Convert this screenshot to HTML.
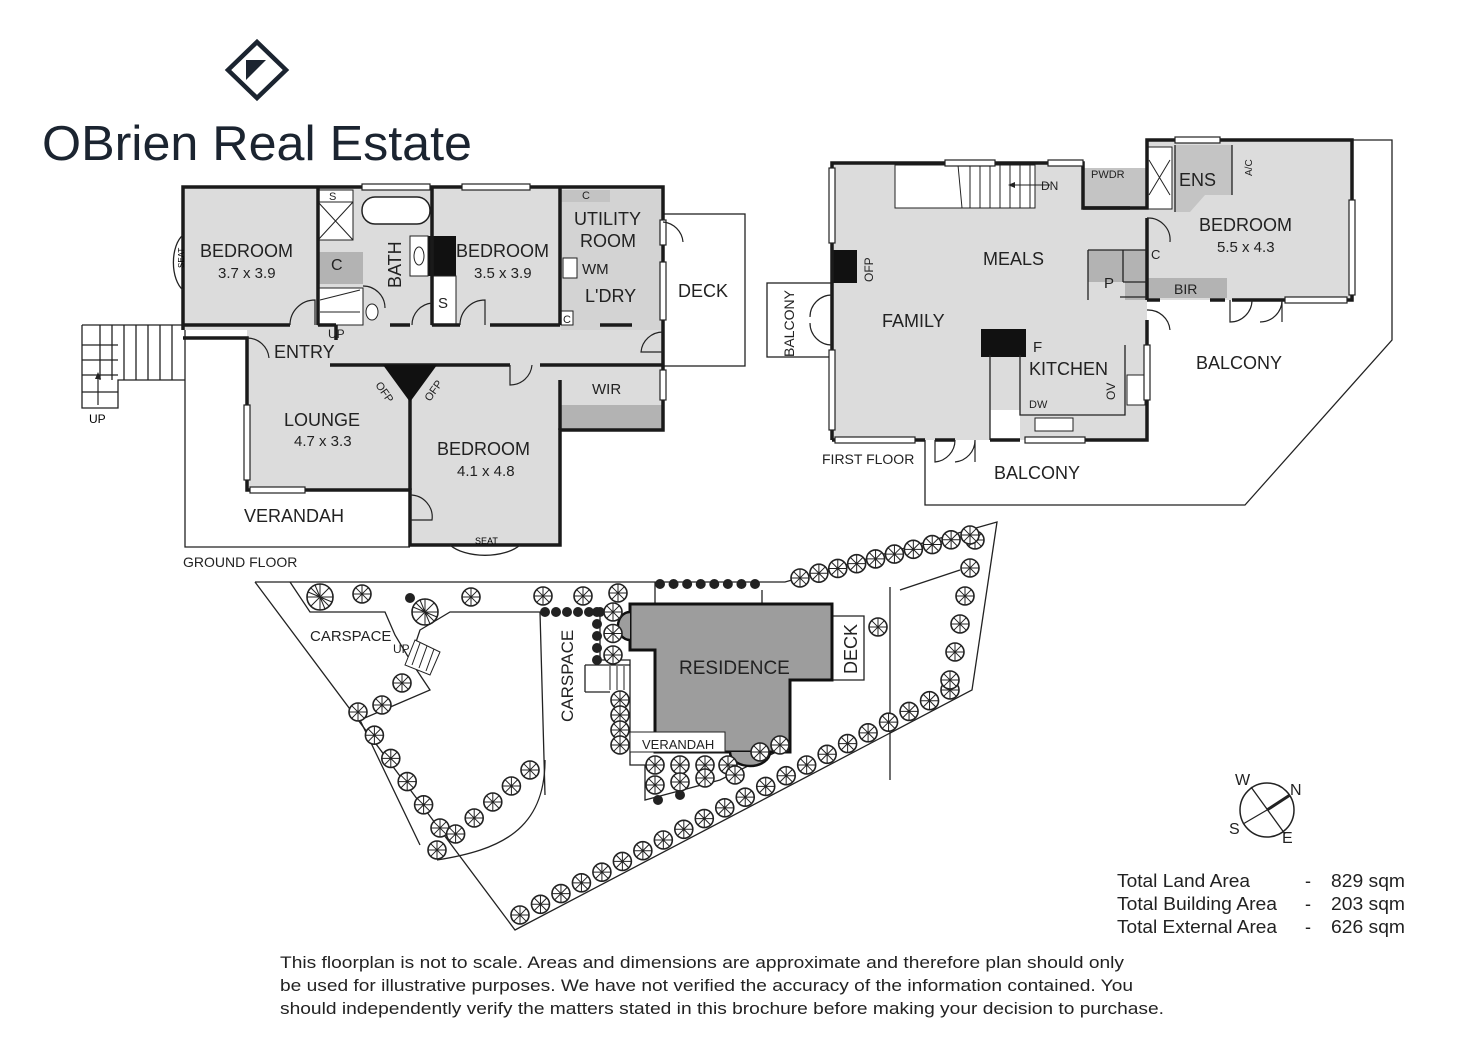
<!DOCTYPE html>
<html><head><meta charset="utf-8">
<style>
html,body{margin:0;padding:0;background:#fff;}
svg{display:block;font-family:"Liberation Sans",sans-serif;}
</style></head><body>
<svg id="s" width="1472" height="1040" viewBox="0 0 1472 1040" xmlns="http://www.w3.org/2000/svg">
<defs>
<g id="tr"><circle r="9" fill="#fff" stroke="#222" stroke-width="1.6"/><path d="M0-9V9M-9 0H9M-6.3-6.3L6.3 6.3M-6.3 6.3L6.3-6.3" stroke="#222" stroke-width="1"/></g>
<g id="tb"><circle r="13" fill="#fff" stroke="#222" stroke-width="1.6"/><path d="M0-13V13M-13 0H13M-9-9L9 9M-9 9L9-9M-5-12L5 12M-12-5L12 5" stroke="#222" stroke-width="1"/></g>
<g id="dt"><circle r="5" fill="#222"/></g>
</defs>

<!-- logo -->
<polygon points="257,42 286,70 257,98 228,70" fill="none" stroke="#1b2430" stroke-width="4.5"/>
<polygon points="246,60 266,60 246,80" fill="#1b2430"/>
<text x="42" y="160" font-size="49" fill="#1b2430" textLength="430" lengthAdjust="spacingAndGlyphs">OBrien Real Estate</text>

<!-- ===== GROUND FLOOR ===== -->
<g fill="none" stroke="#222" stroke-width="1.3">
<rect x="663" y="214" width="82" height="152"/>
<polyline points="185,328 185,547 410,547"/>
<polyline points="82,325 185,325"/><polyline points="82,325 82,408 118,408 118,380 185,380"/>
<path d="M100,325V380M112,325V380M124,325V380M136,325V380M148,325V380M160,325V380M172,325V380"/>
<path d="M82,345H118M82,360H118M82,375H118M82,392H118"/>
</g>
<path d="M98,405V378" stroke="#222" stroke-width="1.2"/><polygon points="98,372 95,379 101,379" fill="#222"/>
<text x="89" y="423" font-size="12">UP</text>

<polygon points="183,187 663,187 663,430 560,430 560,545 410,545 410,490 247,490 247,330 183,330" fill="#dcdcdc"/>
<rect x="318" y="252" width="45" height="32" fill="#b3b3b3"/>
<rect x="560" y="405" width="103" height="25" fill="#b3b3b3"/>
<rect x="560" y="190" width="50" height="12" fill="#b3b3b3"/>
<rect x="561" y="190" width="100" height="140" fill="#cdcdcd" opacity="0.6"/>
<rect x="428" y="236" width="28" height="40" fill="#111"/>
<rect x="410" y="236" width="18" height="40" fill="#fff" stroke="#222"/>
<ellipse cx="419" cy="256" rx="5" ry="9" fill="none" stroke="#222"/>
<rect x="432" y="276" width="24" height="49" fill="#fff" stroke="#222"/>
<rect x="318" y="190" width="35" height="50" fill="#fff" stroke="#222"/>
<path d="M318,202H353M318,202L353,240M353,202L318,240" stroke="#222" stroke-width="1"/>
<rect x="362" y="197" width="68" height="27" rx="13" fill="#fff" stroke="#222" stroke-width="1.5"/>
<rect x="318" y="288" width="45" height="37" fill="#fff" stroke="#222"/>
<path d="M320,300L360,290M320,312H360" stroke="#222" stroke-width="1"/>
<ellipse cx="372" cy="312" rx="6" ry="8" fill="#fff" stroke="#222"/>
<rect x="563" y="258" width="14" height="20" fill="#fff" stroke="#222"/>
<rect x="561" y="311" width="12" height="14" fill="#fff" stroke="#222"/>
<g stroke="#1a1a1a" stroke-width="3.5" fill="none">
<polyline points="183,330 183,187 663,187 663,430 560,430 560,545 410,545 410,490 247,490 247,338 183,338"/>
<path d="M318,187V325M432,187V325M560,187V325M183,325H290M318,325H336M336,325V340M390,325H410M432,325H460M490,325H560M600,325H632M330,365H510M540,365H663M410,365V490M560,380V430"/>
</g>
<polygon points="383,365 437,365 410,402" fill="#111"/>
<g stroke="#222" stroke-width="1.2" fill="#fff">
<rect x="362" y="184" width="68" height="6"/><rect x="462" y="184" width="68" height="6"/>
<rect x="660" y="220" width="6" height="25"/><rect x="660" y="262" width="6" height="58"/><rect x="660" y="370" width="6" height="30"/>
<rect x="244" y="405" width="6" height="75"/><rect x="250" y="487" width="55" height="6"/>
</g>
<path d="M183,235 A16,30 0 0,0 183,290" fill="none" stroke="#222" stroke-width="1.3"/>
<path d="M450,545 A40,20 0 0,0 520,545" fill="none" stroke="#222" stroke-width="1.3"/>
<text x="475" y="544" font-size="9">SEAT</text>
<text transform="translate(184,268) rotate(-90)" font-size="8">SEAT</text>
<g fill="none" stroke="#222" stroke-width="1.2">
<path d="M290,325A25,25 0 0,1 315,300V325"/><path d="M460,325A25,25 0 0,1 485,300V325"/>
<path d="M247,338A22,22 0 0,1 269,358"/><path d="M510,365V385A22,22 0 0,0 532,365"/>
<path d="M663,332A22,22 0 0,0 641,352H663"/><path d="M663,222A22,22 0 0,1 683,242"/>
<path d="M410,495A22,22 0 0,1 432,520H410"/><path d="M363,286A22,22 0 0,1 385,308"/>
<path d="M412,325A22,22 0 0,1 432,303"/>
</g>
<g font-size="18" fill="#222">
<text x="200" y="257">BEDROOM</text><text x="218" y="278" font-size="15">3.7 x 3.9</text>
<text x="456" y="257">BEDROOM</text><text x="474" y="278" font-size="15">3.5 x 3.9</text>
<text x="574" y="225">UTILITY</text><text x="580" y="247">ROOM</text>
<text x="585" y="302">L'DRY</text><text x="582" y="274" font-size="15">WM</text>
<text x="678" y="297">DECK</text>
<text x="274" y="358">ENTRY</text>
<text x="284" y="426">LOUNGE</text><text x="294" y="446" font-size="15">4.7 x 3.3</text>
<text x="437" y="455">BEDROOM</text><text x="457" y="476" font-size="15">4.1 x 4.8</text>
<text x="592" y="394" font-size="15">WIR</text>
<text x="244" y="522">VERANDAH</text>
<text x="331" y="270" font-size="16">C</text><text x="438" y="308" font-size="15">S</text>
<text x="329" y="200" font-size="11">S</text><text x="582" y="199" font-size="11">C</text><text x="563" y="323" font-size="11">C</text>
<text transform="translate(401,288) rotate(-90)">BATH</text>
<text x="328" y="338" font-size="12">UP</text>
<text transform="translate(375,385) rotate(55)" font-size="11">OFP</text>
<text transform="translate(430,402) rotate(-55)" font-size="11">OFP</text>
<text x="183" y="567" font-size="14">GROUND FLOOR</text>
</g>

<!-- ===== FIRST FLOOR ===== -->
<g fill="none" stroke="#222" stroke-width="1.3">
<rect x="767" y="283" width="65" height="74"/>
<polyline points="1352,140 1392,140 1392,340 1245,505 925,505 925,440"/>
</g>
<polygon points="832,163 1083,163 1083,208 1147,208 1147,140 1352,140 1352,300 1147,300 1147,440 1020,440 1020,410 990,410 990,440 832,440" fill="#dcdcdc"/>
<rect x="1083" y="168" width="64" height="40" fill="#c4c4c4"/>
<polygon points="1175,145 1232,145 1232,195 1205,195 1190,212 1175,212" fill="#c4c4c4"/>
<polygon points="1088,250 1147,250 1147,300 1125,300 1125,282 1088,282" fill="#b3b3b3"/>
<rect x="1147" y="278" width="80" height="20" fill="#b3b3b3"/>
<rect x="895" y="165" width="140" height="43" fill="#fff" stroke="#222"/>
<path d="M958,165L962,208M970,165V208M980,165V208M990,165V208M1000,165V208M1010,165V208M1020,165V208M1030,165V208" stroke="#222"/>
<path d="M1050,185H1010" stroke="#222"/><polygon points="1008,185 1015,182 1015,188" fill="#222"/>
<rect x="1147" y="147" width="25" height="62" fill="#fff" stroke="#222"/><path d="M1149,160L1170,195M1170,160L1149,195" stroke="#222"/>
<rect x="981" y="329" width="45" height="28" fill="#111"/>
<rect x="832" y="250" width="25" height="33" fill="#111"/>
<rect x="1127" y="375" width="18" height="30" fill="#fff" stroke="#222"/>
<rect x="1035" y="418" width="38" height="13" fill="#fff" stroke="#222"/>
<g stroke="#1a1a1a" stroke-width="3.5" fill="none">
<polyline points="832,440 832,163 1083,163 1083,208 1147,208 1147,140 1352,140 1352,300 1232,300"/>
<path d="M1147,300H1160M1147,218V300M1147,320V345M1147,365V440H1070M1020,440H990M955,440H935M832,440H925M1225,300H1210M1083,208H1130"/>
</g>
<path d="M1088,250V300M1088,250H1147M1123,282H1147M1123,282V250M1120,297H1147M1020,355V415H1125V345M990,355V440M1232,145V195M1175,145V212" stroke="#222" stroke-width="1.3" fill="none"/>
<g stroke="#222" stroke-width="1.2" fill="#fff">
<rect x="829" y="168" width="6" height="75"/><rect x="829" y="350" width="6" height="80"/>
<rect x="835" y="437" width="80" height="6"/><rect x="1025" y="437" width="60" height="6"/>
<rect x="945" y="160" width="50" height="6"/><rect x="1048" y="160" width="35" height="6"/>
<rect x="1175" y="137" width="45" height="6"/><rect x="1349" y="200" width="6" height="95"/>
<rect x="1285" y="297" width="62" height="6"/><rect x="1144" y="345" width="6" height="55"/>
</g>
<g fill="none" stroke="#222" stroke-width="1.2">
<path d="M832,295A22,22 0 0,0 810,317M832,345A22,22 0 0,1 810,323"/>
<path d="M935,440V462A22,22 0 0,0 955,440M955,462A22,22 0 0,0 975,440V462"/>
<path d="M1230,300V322A22,22 0 0,0 1252,300M1260,322A22,22 0 0,0 1282,300V322"/>
<path d="M1147,218A22,22 0 0,1 1170,242"/><path d="M1147,310A22,22 0 0,1 1170,330"/>
</g>
<g font-size="18" fill="#222">
<text x="983" y="265">MEALS</text><text x="882" y="327">FAMILY</text>
<text x="1029" y="375">KITCHEN</text><text x="1033" y="352" font-size="15">F</text>
<text x="1104" y="288" font-size="15">P</text><text x="1174" y="294" font-size="14">BIR</text>
<text x="1179" y="186">ENS</text><text x="1199" y="231">BEDROOM</text>
<text x="1217" y="252" font-size="15">5.5 x 4.3</text>
<text x="1196" y="369">BALCONY</text><text x="994" y="479">BALCONY</text>
<text transform="translate(794,357) rotate(-90)" font-size="14">BALCONY</text>
<text transform="translate(873,282) rotate(-90)" font-size="12">OFP</text>
<text transform="translate(1115,400) rotate(-90)" font-size="12">OV</text>
<text x="1041" y="190" font-size="12">DN</text><text x="1091" y="178" font-size="11">PWDR</text>
<text x="1029" y="408" font-size="11">DW</text><text x="1151" y="259" font-size="13">C</text>
<text transform="translate(1252,176) rotate(-90)" font-size="10">A/C</text>
<text x="822" y="464" font-size="14">FIRST FLOOR</text>
</g>

<!-- ===== SITE ===== -->
<g fill="none" stroke="#222" stroke-width="1.3">
<polyline points="255,582 785,582 997,522 972,690 515,930 255,582"/>
<polyline points="290,582 310,612 385,612 395,635 410,660 420,630 450,612 540,612 545,795"/>
<path d="M410,660L430,690L360,720L420,845"/>
<path d="M545,760 C 545,830 500,850 437,860"/>
<path d="M890,587V780M655,582V604M762,590V604"/>
<path d="M600,612V660M600,660H630V765H645V800L720,780L780,750"/>
<path d="M585,665H630M585,692H610M585,665V692"/>
<path d="M832,616H864V680H832"/>
<polyline points="960,570 900,590"/>
</g>
<polygon points="630,604 832,604 832,680 790,680 790,752 725,752 655,752 655,650 630,650" fill="#9d9d9d" stroke="#111" stroke-width="3"/>
<path d="M730,752A20,14 0 0,0 770,752" fill="#9d9d9d" stroke="#111" stroke-width="2.5"/>
<path d="M630,612A12,14 0 0,0 630,640" fill="#9d9d9d" stroke="#111" stroke-width="2.5"/>
<rect x="630" y="732" width="95" height="20" fill="#fff" stroke="#222"/>
<path d="M415,640L440,652L430,675L405,665Z" fill="#fff" stroke="#222"/>
<path d="M420,643L412,665M427,646L419,668M434,649L426,671" stroke="#222"/>
<path d="M610,666V690M617,666V690M624,666V690" stroke="#222"/>
<g id="trees"></g>
<g font-size="17" fill="#222">
<text x="310" y="641" font-size="15">CARSPACE</text><text x="393" y="653" font-size="12">UP</text>
<text x="679" y="674" font-size="19">RESIDENCE</text>
<text x="642" y="749" font-size="13">VERANDAH</text>
<text transform="translate(573,722) rotate(-90)">CARSPACE</text>
<text transform="translate(857,674) rotate(-90)" font-size="18">DECK</text>
</g>

<circle cx="1267" cy="810" r="27" fill="none" stroke="#222" stroke-width="1.5"/>
<path d="M1251,787L1285,834M1243,824L1267,810" stroke="#222" stroke-width="1.3"/>
<path d="M1267,810L1290,795" stroke="#222" stroke-width="3"/>
<g font-size="16" fill="#222"><text x="1235" y="785">W</text><text x="1290" y="795">N</text><text x="1229" y="834">S</text><text x="1282" y="843">E</text></g>

<g font-size="18" fill="#222">
<text x="1117" y="887" textLength="133" lengthAdjust="spacingAndGlyphs">Total Land Area</text><text x="1305" y="887">-</text><text x="1331" y="887" textLength="74" lengthAdjust="spacingAndGlyphs">829 sqm</text>
<text x="1117" y="910" textLength="160" lengthAdjust="spacingAndGlyphs">Total Building Area</text><text x="1305" y="910">-</text><text x="1331" y="910" textLength="74" lengthAdjust="spacingAndGlyphs">203 sqm</text>
<text x="1117" y="933" textLength="160" lengthAdjust="spacingAndGlyphs">Total External Area</text><text x="1305" y="933">-</text><text x="1331" y="933" textLength="74" lengthAdjust="spacingAndGlyphs">626 sqm</text>
</g>
<g font-size="17" fill="#222">
<text x="280" y="968" textLength="844" lengthAdjust="spacingAndGlyphs">This floorplan is not to scale. Areas and dimensions are approximate and therefore plan should only</text>
<text x="280" y="991" textLength="853" lengthAdjust="spacingAndGlyphs">be used for illustrative purposes. We have not verified the accuracy of the information contained. You</text>
<text x="280" y="1014" textLength="884" lengthAdjust="spacingAndGlyphs">should independently verify the matters stated in this brochure before making your decision to purchase.</text>
</g>
</svg>
<script>
(function(){
var g=document.getElementById('trees'),NS='http://www.w3.org/2000/svg';
function put(id,x,y){var u=document.createElementNS(NS,'use');u.setAttribute('href','#'+id);u.setAttributeNS('http://www.w3.org/1999/xlink','xlink:href','#'+id);u.setAttribute('x',x);u.setAttribute('y',y);g.appendChild(u);}
function line(id,x1,y1,x2,y2,n){for(var i=0;i<n;i++){var t=n==1?0:i/(n-1);put(id,x1+(x2-x1)*t,y1+(y2-y1)*t);}}
[[320,597,'tb'],[362,594,'tr'],[410,598,'dt'],[425,612,'tb'],[471,597,'tr'],[543,596,'tr'],[583,596,'tr'],[618,593,'tr'],[878,627,'tr']].forEach(function(a){put(a[2],a[0],a[1]);});
line('tr',402,683,382,705,2);
line('tr',358,712,440,828,6);
line('tr',437,850,530,770,6);
line('tr',520,915,950,690,22);
line('tr',975,540,950,680,6);
line('tr',800,578,970,535,10);
line('dt',660,584,755,584,8);
line('dt',545,612,600,612,6);
line('dt',597,612,597,660,5);
line('tr',613,612,613,655,3);
line('tr',620,700,620,745,4);
[[655,765],[680,765],[705,765],[728,765],[655,785],[680,782],[705,778],[735,775],[760,752],[780,745]].forEach(function(a){put('tr',a[0],a[1]);});
put('dt',658,800);put('dt',680,795);
})();
</script>
</body></html>
